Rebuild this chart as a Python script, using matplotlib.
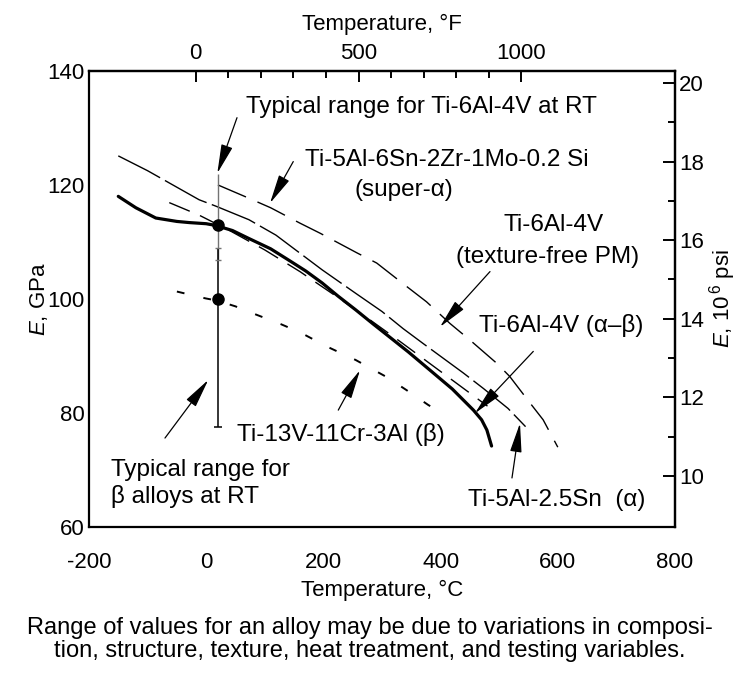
import matplotlib.pyplot as plt
import numpy as np

plt.rcParams['font.family'] = ['Liberation Sans', 'DejaVu Sans']
plt.rcParams['mathtext.fontset'] = 'custom'
plt.rcParams['mathtext.rm'] = 'Liberation Sans'
plt.rcParams['mathtext.it'] = 'Liberation Sans:italic'
plt.rcParams['axes.unicode_minus'] = False

# Ti-6Al-4V (alpha-beta) -- heavy solid curve, temperature in C, modulus in GPa
t_ab = [-150, -120, -86, -50, -29, 0, 16, 45, 73, 110, 141, 170, 198, 225, 255,
        285, 312, 345, 382, 420, 456, 470, 479, 487]
e_ab = [118.0, 116.0, 114.2, 113.6, 113.4, 113.2, 112.9, 112.0, 110.6, 108.8, 106.8,
        104.9, 102.8, 100.5, 98.1, 95.6, 93.4, 90.7, 87.5, 84.2, 80.5, 78.8, 77.0, 74.2]

# Ti-5Al-6Sn-2Zr-1Mo-0.2Si (super-alpha)
t_sa = [20, 70, 110, 160, 195, 257, 291, 342, 376, 416, 450, 496, 518, 553, 575, 600]
e_sa = [120.0, 117.8, 116.0, 113.3, 111.5, 108.1, 106.3, 102.2, 99.5, 95.7, 92.8,
        88.7, 86.4, 81.7, 78.8, 74.0]

# Ti-5Al-2.5Sn (alpha)
t_a = [-150, -100, -50, -12, 16, 73, 119, 198, 255, 300, 336, 370, 439, 473, 515, 545]
e_a = [125.1, 122.5, 119.6, 117.4, 116.3, 113.9, 111.2, 105.1, 101.0, 97.8, 94.8,
       92.2, 87.0, 84.3, 80.8, 77.6]

# Ti-6Al-4V (texture-free PM)
t_pm = [-63, -12, 40, 100, 160, 220, 280, 330, 380, 430, 480]
e_pm = [116.9, 114.7, 112.0, 108.6, 104.8, 100.6, 96.3, 92.6, 88.8, 85.0, 81.2]

# Ti-13V-11Cr-3Al (beta)
t_b = [-50, -1, 19, 50, 79, 127, 161, 207, 255, 308, 342, 379, 405]
e_b = [101.3, 100.1, 99.7, 98.7, 97.5, 95.6, 94.1, 91.6, 89.3, 86.3, 84.0, 81.4, 79.8]

# room-temperature scatter bands
rt_temp = 20
ti64_rt, ti64_lo, ti64_hi = 113.0, 106.8, 122.0
beta_rt, beta_lo, beta_hi = 100.0, 77.6, 108.9

GPA_TO_MPSI = 0.1450377

fig = plt.figure(figsize=(7.39, 6.75), dpi=100)
ax = fig.add_axes([0.1204, 0.2193, 0.7930, 0.6756])
ax.set_xlim(-200, 800)
ax.set_ylim(60, 140)
for s in ax.spines.values():
    s.set_linewidth(1.6)

tick_fs = 16
fs = 17.5

ax.set_xticks([-200, 0, 200, 400, 600, 800])
ax.set_yticks([60, 80, 100, 120, 140])
ax.tick_params(axis='both', length=0, labelsize=tick_fs)
ax.tick_params(axis='x', pad=18)
ax.tick_params(axis='y', pad=3)

# curves
ax.plot(t_ab, e_ab, color='k', lw=2.3, solid_capstyle='round')
ax.plot(t_sa, e_sa, color='k', lw=1.0, dashes=(22, 9))
ax.plot(t_a, e_a, color='k', lw=1.0, dashes=(34, 4))
ax.plot(t_pm, e_pm, color='k', lw=1.0, dashes=(16, 8))
ax.plot(t_b, e_b, color='k', lw=1.4, dashes=(4, 10))

# RT ranges
ax.vlines(rt_temp, ti64_lo, ti64_hi, color='0.45', lw=1.0)
ax.vlines(rt_temp, beta_lo, beta_hi, color='k', lw=1.1)
ax.hlines([ti64_lo, beta_hi], rt_temp - 5, rt_temp + 5, color='0.45', lw=1.0)
ax.hlines(beta_lo, rt_temp - 7, rt_temp + 7, color='k', lw=1.1)
ax.plot([rt_temp, rt_temp], [ti64_rt, beta_rt], 'o', color='k', ms=8)

arrow = dict(arrowstyle='-|>,head_length=0.9,head_width=0.18', color='k', lw=0.9,
             mutation_scale=20, shrinkA=0, shrinkB=0)

ax.annotate('', xy=(19, 122.05), xytext=(52.6, 131.8), arrowprops=arrow)
ax.text(68, 133.7, 'Typical range for Ti-6Al-4V at RT', fontsize=fs, va='center')

ax.annotate('', xy=(108.9, 116.8), xytext=(148.6, 124.1), arrowprops=arrow)
ax.text(168, 124.4, 'Ti-5Al-6Sn-2Zr-1Mo-0.2 Si', fontsize=fs, va='center')
ax.text(253, 119.1, '(super-α)', fontsize=fs, va='center')

ax.annotate('', xy=(399, 95.1), xytext=(484.3, 104.8), arrowprops=arrow)
ax.text(592, 113.0, 'Ti-6Al-4V', fontsize=fs, va='center', ha='center')
ax.text(582, 107.4, '(texture-free PM)', fontsize=fs, va='center', ha='center')

ax.annotate('', xy=(458.7, 79.95), xytext=(558.2, 90.8), arrowprops=arrow)
ax.text(466, 95.4, 'Ti-6Al-4V (α–β)', fontsize=fs, va='center')

ax.annotate('', xy=(535.5, 78.2), xytext=(521.8, 68.6), arrowprops=arrow)
ax.text(447, 64.7, 'Ti-5Al-2.5Sn  (α)', fontsize=fs, va='center')

ax.annotate('', xy=(262.5, 87.5), xytext=(225.4, 80.5), arrowprops=arrow)
ax.text(52, 76.3, 'Ti-13V-11Cr-3Al (β)', fontsize=fs, va='center')

ax.annotate('', xy=(3.6, 85.8), xytext=(-70.3, 75.6), arrowprops=arrow)
ax.text(-163, 70.0, 'Typical range for', fontsize=fs, va='center')
ax.text(-163, 65.3, 'β alloys at RT', fontsize=fs, va='center')

# Fahrenheit scale on top
top = ax.secondary_xaxis('top', functions=(lambda c: c * 9 / 5 + 32,
                                           lambda f: (f - 32) * 5 / 9))
top.set_ticks([0, 500, 1000])
top.set_ticks([100, 200, 300, 400, 600, 700, 800, 900], minor=True)
top.tick_params(which='major', direction='in', length=8, width=1.4, labelsize=tick_fs, pad=5)
top.tick_params(which='minor', direction='in', length=5, width=1.4)
top.spines['top'].set_linewidth(1.6)
top.set_xlabel('Temperature, °F', fontsize=tick_fs, labelpad=9)

# psi scale on the right
right = ax.secondary_yaxis('right', functions=(lambda g: g * GPA_TO_MPSI,
                                               lambda p: p / GPA_TO_MPSI))
right.set_ticks([10, 12, 14, 16, 18, 20])
right.set_ticks([11, 13, 15, 17, 19], minor=True)
right.tick_params(which='major', direction='in', length=9, width=1.4, labelsize=tick_fs, pad=3)
right.tick_params(which='minor', direction='in', length=5, width=1.4)
right.spines['right'].set_linewidth(1.6)
right.set_ylabel(r'$E$, 10$^{\,6}$ psi', fontsize=tick_fs, labelpad=2)

ax.set_xlabel('Temperature, °C', fontsize=tick_fs, labelpad=5)
ax.set_ylabel(r'$E$, GPa', fontsize=tick_fs, labelpad=-2)

fig.text(0.5, 0.053, 'Range of values for an alloy may be due to variations in composi-\n'
         'tion, structure, texture, heat treatment, and testing variables.',
         fontsize=17, ha='center', va='center', linespacing=1.05)

fig.savefig('out.png', dpi=100, facecolor='white')
